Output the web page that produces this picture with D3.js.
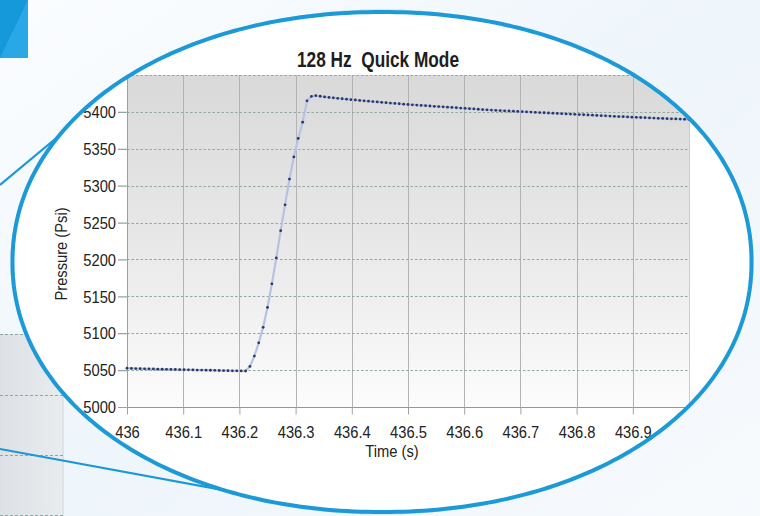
<!DOCTYPE html>
<html>
<head>
<meta charset="utf-8">
<script src="https://cdn.jsdelivr.net/npm/d3@7"></script>
<style>
  html, body { margin: 0; padding: 0; background: #ffffff; }
  svg { display: block; }
  .lbl { font-family: "Liberation Sans", Arial, sans-serif; }
</style>
</head>
<body>
<svg id="chart" width="760" height="516"></svg>
<script>
// ---------------- DATA ----------------
const chartTitle = "128 Hz  Quick Mode";
const xAxisTitle = "Time (s)";
const yAxisTitle = "Pressure (Psi)";
const sampleRateHz = 128;         // samples per second (from the title)
const startTime = 436;            // time of first sample (s)
// pressure readings (Psi), one per sample
const pressure = [
  5052.5, 5052.3, 5052.1, 5052.0, 5051.8, 5051.6, 5051.5, 5051.3, 5051.2, 5051.0,
  5050.9, 5050.8, 5050.6, 5050.5, 5050.4, 5050.3, 5050.1, 5050.0, 5049.9, 5049.8,
  5049.7, 5049.5, 5049.4, 5049.3, 5049.1, 5049.0, 5048.9, 5048.8,
  5055, 5069, 5087, 5108, 5135, 5167, 5202, 5239, 5274, 5309, 5339, 5364, 5386, 5415,
  5421, 5422, 5421.2,
  5420.3, 5419.6, 5419.0, 5418.4, 5417.8, 5417.2, 5416.6, 5416.1, 5415.6, 5415.0,
  5414.5, 5414.0, 5413.5, 5413.0, 5412.5, 5412.0, 5411.5, 5411.0, 5410.5, 5410.0,
  5409.6, 5409.2, 5408.8, 5408.4, 5408.0, 5407.6, 5407.2, 5406.8, 5406.4, 5406.0,
  5405.6, 5405.2, 5404.8, 5404.4, 5404.0, 5403.6, 5403.2, 5402.8, 5402.4, 5402.1,
  5401.8, 5401.5, 5401.2, 5400.9, 5400.6, 5400.3, 5400.0, 5399.7, 5399.4, 5399.1,
  5398.8, 5398.5, 5398.2, 5397.9, 5397.6, 5397.3, 5397.0, 5396.7, 5396.4, 5396.1,
  5395.8, 5395.5, 5395.2, 5394.9, 5394.6, 5394.3, 5394.0, 5393.7, 5393.5, 5393.2,
  5392.9, 5392.6, 5392.4, 5392.1, 5391.8, 5391.6, 5391.3, 5391.1, 5390.8, 5390.6,
  5390.4, 5390.2, 5390.0, 5389.8
];
const xDomain = [436, 437];
const yDomain = [5000, 5450];
const xTicks = [436, 436.1, 436.2, 436.3, 436.4, 436.5, 436.6, 436.7, 436.8, 436.9];
const xTickLabels = ["436", "436.1", "436.2", "436.3", "436.4", "436.5", "436.6", "436.7", "436.8", "436.9"];
const yTicks = [5000, 5050, 5100, 5150, 5200, 5250, 5300, 5350, 5400];
const yTickLabels = ["5000", "5050", "5100", "5150", "5200", "5250", "5300", "5350", "5400"];
const yGrid = [5050, 5100, 5150, 5200, 5250, 5300, 5350, 5400, 5450];

// samples: time from the sample clock, value from the readings
const samples = pressure.map((p, i) => ({ t: startTime + i / sampleRateHz, p }));

// ---------------- LAYOUT ----------------
const W = 760, H = 516;
const plot = { left: 127, right: 689, top: 75, bottom: 407 };
const narrow = 0.92;   // horizontal squeeze to imitate the condensed face

const svg = d3.select("#chart");
const defs = svg.append("defs");

// background gradients
const bgGrad2 = defs.append("linearGradient").attr("id", "bgGrad2")
  .attr("x1", 0).attr("y1", 0).attr("x2", 1).attr("y2", 1);
bgGrad2.append("stop").attr("offset", "0").attr("stop-color", "#fbfdff");
bgGrad2.append("stop").attr("offset", "0.5").attr("stop-color", "#eef5fb");
bgGrad2.append("stop").attr("offset", "1").attr("stop-color", "#f7fafd");

const halo = defs.append("radialGradient").attr("id", "halo")
  .attr("gradientUnits", "userSpaceOnUse")
  .attr("cx", 382).attr("cy", 262).attr("r", 372)
  .attr("gradientTransform", "translate(382,262) scale(1,0.68) translate(-382,-262)");
halo.append("stop").attr("offset", "0.95").attr("stop-color", "#d2e5f5").attr("stop-opacity", 1);
halo.append("stop").attr("offset", "1.02").attr("stop-color", "#d6e8f6").attr("stop-opacity", 0.9);
halo.append("stop").attr("offset", "1.22").attr("stop-color", "#eef5fb").attr("stop-opacity", 0);

const sqGrad = defs.append("linearGradient").attr("id", "sqGrad")
  .attr("x1", 0).attr("y1", 0).attr("x2", 1).attr("y2", 1);
sqGrad.append("stop").attr("offset", "0.5").attr("stop-color", "#1699da");
sqGrad.append("stop").attr("offset", "0.5").attr("stop-color", "#2aa8e6");

const boxGrad = defs.append("linearGradient").attr("id", "boxGrad")
  .attr("x1", 0).attr("y1", 0).attr("x2", 1).attr("y2", 0);
boxGrad.append("stop").attr("offset", "0").attr("stop-color", "#dde0e4");
boxGrad.append("stop").attr("offset", "1").attr("stop-color", "#e9ecef");

const plotGrad = defs.append("linearGradient").attr("id", "plotGrad")
  .attr("x1", 0).attr("y1", 0).attr("x2", 0).attr("y2", 1);
plotGrad.append("stop").attr("offset", "0").attr("stop-color", "#d9d9d9");
plotGrad.append("stop").attr("offset", "0.5").attr("stop-color", "#e8e8e8");
plotGrad.append("stop").attr("offset", "1").attr("stop-color", "#fbfcfb");

// superellipse lens outline
const lens = { cx: 382, cy: 262, a: 369.5, b: 250, n: 2.07 };
const lensPts = d3.range(0, 360, 1).map(deg => {
  const th = deg * Math.PI / 180;
  const c = Math.cos(th), s = Math.sin(th);
  return [lens.cx + lens.a * Math.sign(c) * Math.pow(Math.abs(c), 2 / lens.n),
          lens.cy + lens.b * Math.sign(s) * Math.pow(Math.abs(s), 2 / lens.n)];
});
const lensPath = d3.line().curve(d3.curveLinearClosed)(lensPts);
defs.append("clipPath").attr("id", "lensClip").append("path").attr("d", lensPath);

// ---------------- BACKGROUND DECORATION ----------------
svg.append("rect").attr("width", W).attr("height", H).attr("fill", "url(#bgGrad2)");
svg.append("rect").attr("width", W).attr("height", H).attr("fill", "url(#halo)");

svg.append("rect").attr("x", 0).attr("y", 0).attr("width", 28).attr("height", 58).attr("fill", "url(#sqGrad)");

svg.append("rect").attr("x", 0).attr("y", 334).attr("width", 63).attr("height", 190).attr("fill", "url(#boxGrad)");
svg.append("line").attr("x1", 63).attr("x2", 63).attr("y1", 334).attr("y2", 516)
  .attr("stroke", "#cfd3d7").attr("stroke-width", 1);
svg.append("g").selectAll("line").data([334.5, 395.5, 455.5, 515.5]).join("line")
  .attr("x1", 0).attr("x2", 63).attr("y1", d => d).attr("y2", d => d)
  .attr("stroke", "#8fa6a6").attr("stroke-width", 1).attr("stroke-dasharray", "3,2");

// magnifier lines
svg.append("line").attr("x1", 0).attr("y1", 185).attr("x2", 90).attr("y2", 110)
  .attr("stroke", "#1a97d5").attr("stroke-width", 2.2);
svg.append("line").attr("x1", 0).attr("y1", 449).attr("x2", 320).attr("y2", 508)
  .attr("stroke", "#1a97d5").attr("stroke-width", 2.2);

// lens interior
svg.append("path").attr("d", lensPath).attr("fill", "#ffffff");

// ---------------- CHART ----------------
const g = svg.append("g").attr("clip-path", "url(#lensClip)");

const x = d3.scaleLinear().domain(xDomain).range([plot.left, plot.right]);
const y = d3.scaleLinear().domain(yDomain).range([plot.bottom, plot.top]);

g.append("rect").attr("x", plot.left).attr("y", plot.top)
  .attr("width", plot.right - plot.left).attr("height", plot.bottom - plot.top)
  .attr("fill", "url(#plotGrad)");

// right border
g.append("line").attr("x1", plot.right + 0.5).attr("x2", plot.right + 0.5)
  .attr("y1", plot.top).attr("y2", plot.bottom).attr("stroke", "#cccccc");

// vertical grid (solid)
g.append("g").selectAll("line").data(xTicks).join("line")
  .attr("x1", d => Math.round(x(d)) + 0.5).attr("x2", d => Math.round(x(d)) + 0.5)
  .attr("y1", plot.top).attr("y2", plot.bottom)
  .attr("stroke", d => d === xDomain[0] ? "#8ea7a2" : "#b3b3b3").attr("stroke-width", 1);

// horizontal grid (dotted)
g.append("g").selectAll("line").data(yGrid).join("line")
  .attr("x1", plot.left).attr("x2", plot.right)
  .attr("y1", d => Math.round(y(d)) + 0.5).attr("y2", d => Math.round(y(d)) + 0.5)
  .attr("stroke", "#92a9a2").attr("stroke-width", 1.2).attr("stroke-dasharray", "2.5,2");

// axes
const xAxis = d3.axisBottom(x).tickValues(xTicks)
  .tickFormat((d, i) => xTickLabels[i]).tickSize(7).tickPadding(11);
const xg = g.append("g").attr("transform", `translate(0,${plot.bottom + 0.5})`).call(xAxis);
xg.select(".domain").attr("stroke", "#7fa39c").attr("stroke-width", 1.2)
  .attr("d", `M${plot.left},0H${plot.right}`);
xg.selectAll(".tick line").attr("stroke", "#9aa8a5");
xg.selectAll(".tick text").attr("class", "lbl").attr("fill", "#222222")
  .attr("font-size", 16).attr("dy", "0.78em")
  .attr("transform", `scale(${narrow},1)`);

const yAxis = d3.axisLeft(y).tickValues(yTicks)
  .tickFormat((d, i) => yTickLabels[i]).tickSize(9).tickPadding(2);
const yg = g.append("g").attr("transform", `translate(${plot.left},0)`).call(yAxis);
yg.select(".domain").remove();
yg.selectAll(".tick line").attr("stroke", "#90a7a0").attr("stroke-width", 1.2);
yg.selectAll(".tick text").attr("class", "lbl").attr("fill", "#222222")
  .attr("font-size", 16).attr("dy", "0.36em")
  .attr("x", -11 / narrow)
  .attr("transform", `scale(${narrow},1)`);

// data line and markers
g.append("path").datum(samples)
  .attr("fill", "none").attr("stroke", "#b4c3e4").attr("stroke-width", 2.2)
  .attr("d", d3.line().x(d => x(d.t)).y(d => y(d.p)));
g.append("g").selectAll("circle").data(samples).join("circle")
  .attr("cx", d => x(d.t)).attr("cy", d => y(d.p)).attr("r", 1.4)
  .attr("fill", "#2a3866");

// titles
g.append("text").attr("class", "lbl").attr("x", 378).attr("y", 67)
  .attr("text-anchor", "middle").attr("font-size", 22).attr("font-weight", "bold")
  .attr("xml:space", "preserve").style("white-space", "pre")
  .attr("fill", "#1e1e1e").attr("textLength", 162).attr("lengthAdjust", "spacingAndGlyphs")
  .text(chartTitle);
g.append("text").attr("class", "lbl")
  .attr("transform", `translate(392,457) scale(${narrow},1)`)
  .attr("text-anchor", "middle").attr("font-size", 16)
  .attr("fill", "#222222").text(xAxisTitle);
g.append("text").attr("class", "lbl")
  .attr("transform", `translate(67,254) rotate(-90) scale(${narrow},1)`)
  .attr("text-anchor", "middle").attr("font-size", 16)
  .attr("fill", "#222222").text(yAxisTitle);

// lens rim
svg.append("path").attr("d", lensPath).attr("fill", "none")
  .attr("stroke", "#1b9ad7").attr("stroke-width", 4);
</script>
</body>
</html>
